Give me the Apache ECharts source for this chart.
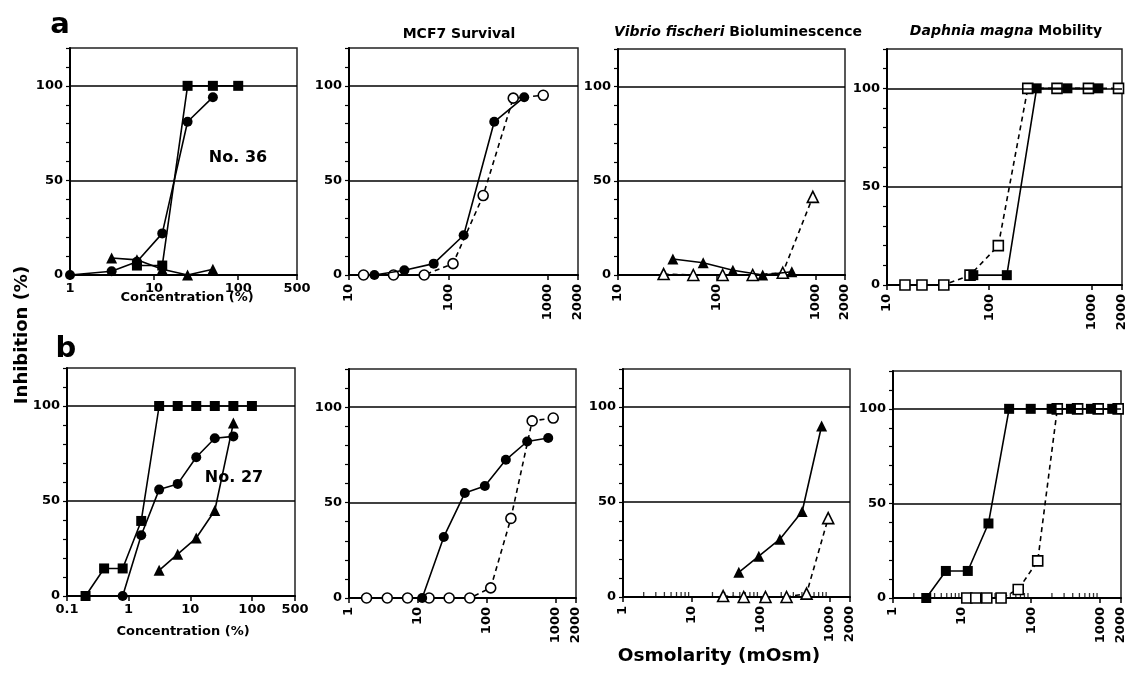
<!DOCTYPE html>
<html>
<head>
<meta charset="utf-8">
<title>Inhibition curves</title>
<script src="https://cdn.jsdelivr.net/npm/echarts@6/dist/echarts.min.js"></script>
<style>
  html, body { margin: 0; padding: 0; background: #fff; }
  #chart { width: 1132px; height: 673px; }
</style>
</head>
<body>
<div id="chart"></div>
<script>
  // ---- values ----
  // row a (No. 36), concentration (%)
  var a1Conc = [1, 3.125, 6.25, 12.5, 25, 50, 100];
  var a1Square = [null, null, 5, 5, 100, 100, 100];
  var a1Circle = [0, 2, 7, 22, 81, 94, null];
  var a1Triangle = [null, 9, 8, 3, 0, 3, null];

  // row a, osmolarity (mOsm)
  var a2FilledX = [18, 36, 71, 142, 288, 576];
  var a2FilledY = [0, 2.5, 6, 21, 81, 94];
  var a2OpenX = [14, 28, 57, 111, 223, 447, 895];
  var a2OpenY = [0, 0, 0, 6, 42, 93.5, 95];

  var a3FilledX = [36, 73, 146, 293, 578];
  var a3FilledY = [8.5, 6.5, 2.5, 0, 1.7];
  var a3OpenX = [29, 58, 115, 232, 468, 944];
  var a3OpenY = [0.5, 0, 0, 0, 1.2, 41.5];

  var a4FilledX = [70, 149, 292, 584, 1175];
  var a4FilledY = [5, 5, 100, 100, 100];
  var a4OpenX = [15, 22, 36, 65, 123, 239, 462, 938, 1849];
  var a4OpenY = [0, 0, 0, 5, 20, 100, 100, 100, 100];

  // row b (No. 27), concentration (%)
  var b1Conc = [0.2, 0.4, 0.8, 1.6, 3.125, 6.25, 12.5, 25, 50, 100];
  var b1Square = [0, 14.5, 14.5, 39.5, 100, 100, 100, 100, 100, 100];
  var b1Circle = [null, null, 0, 32, 56, 59, 73, 83, 84, null];
  var b1Triangle = [null, null, null, null, 13.5, 22, 30.5, 45, 91, null];

  // row b, osmolarity (mOsm)
  var b2FilledX = [11.6, 23.9, 48.3, 94.5, 191, 390, 789];
  var b2FilledY = [0, 32, 55, 58.7, 72.4, 82, 83.8];
  var b2OpenX = [1.8, 3.6, 7.1, 14.6, 28.6, 57, 115, 226, 461, 933];
  var b2OpenY = [0, 0, 0, 0, 0, 0, 5.3, 41.7, 92.8, 94.3];

  var b3FilledX = [48.3, 94.5, 191, 403, 773];
  var b3FilledY = [13, 21.5, 30.4, 45, 90];
  var b3OpenX = [28.6, 57, 118, 239, 467, 964];
  var b3OpenY = [0.5, 0, 0, 0, 1.8, 41.5];

  var b4FilledX = [3.03, 5.83, 12.1, 24.1, 48, 98.7, 198, 377, 734, 1493];
  var b4FilledY = [0, 14.3, 14.3, 39.4, 100, 100, 100, 100, 100, 100];
  var b4OpenX = [11.7, 15.8, 22.8, 36.7, 65, 124.5, 239, 471, 935, 1820];
  var b4OpenY = [0, 0, 0, 0, 4.5, 19.6, 100, 100, 100, 100];

  // axis ranges and ticks
  var xMin = [1, 10, 10, 10, 0.1, 1, 1, 1];
  var xMax = [500, 2000, 2000, 2000, 500, 2000, 2000, 2000];
  var minorSteps = [2, 3, 4, 5, 6, 7, 8, 9];
  var minorDecades = [1, 10, 100];

  var FONT = '"DejaVu Sans", sans-serif';

  var grids = [
    {left: 70, top: 48, width: 227, height: 227},
    {left: 349, top: 48, width: 229, height: 227},
    {left: 618, top: 49, width: 227, height: 226},
    {left: 887, top: 49, width: 235, height: 236},
    {left: 67, top: 368, width: 228, height: 228},
    {left: 349, top: 369, width: 227, height: 229},
    {left: 623, top: 369, width: 227, height: 228},
    {left: 893, top: 371, width: 228, height: 227}
  ];

  function pairs(xs, ys) {
    return xs.map(function (x, i) { return [x, ys[i]]; })
      .filter(function (p) { return p[1] !== null; });
  }

  function curve(idx, data, symbol, filled, dashed) {
    return {
      type: 'line',
      xAxisIndex: idx,
      yAxisIndex: idx,
      data: data,
      symbol: symbol,
      symbolSize: symbol === 'triangle' ? 11 : 10,
      showAllSymbol: true,
      silent: true,
      z: filled ? 4 : 3,
      lineStyle: {color: '#000', width: 1.6, type: dashed ? [5, 4] : 'solid'},
      itemStyle: {color: filled ? '#000' : '#fff', borderColor: '#000', borderWidth: filled ? 0 : 1.6}
    };
  }

  // horizontal rules at 50 and 100
  function rules(idx) {
    return {
      type: 'line', xAxisIndex: idx, yAxisIndex: idx, data: [], silent: true,
      markLine: {
        symbol: 'none', silent: true, animation: false,
        label: {show: false},
        lineStyle: {color: '#000', width: 1.5, type: 'solid'},
        data: [{yAxis: 50}, {yAxis: 100}]
      }
    };
  }

  function minorTicks(idx) {
    var vals = [];
    minorDecades.forEach(function (d) {
      minorSteps.forEach(function (s) { vals.push([s * d, 0]); });
    });
    return {
      type: 'scatter', xAxisIndex: idx, yAxisIndex: idx, data: vals, silent: true,
      symbol: 'rect', symbolSize: [1.3, 5], symbolOffset: [0, -2.5], z: 1,
      itemStyle: {color: '#000'}
    };
  }

  var xAxes = grids.map(function (g, i) {
    return {
      type: 'log', logBase: 10, gridIndex: i, min: xMin[i], max: xMax[i],
      axisLine: {lineStyle: {color: '#000', width: 2}},
      axisTick: {length: 5, lineStyle: {color: '#000', width: 1.5}},
      splitLine: {show: false},
      axisLabel: {
        rotate: (i === 0 || i === 4) ? 0 : 90,
        margin: (i === 0 || i === 4) ? 7 : 9,
        color: '#000', fontWeight: 'bold', fontSize: 13, fontFamily: FONT,
        formatter: function (v) { return v < 1 ? v.toFixed(1) : String(Math.round(v)); }
      }
    };
  });

  var yAxes = grids.map(function (g, i) {
    return {
      type: 'value', gridIndex: i, min: 0, max: 120, interval: 10,
      axisLine: {show: true, lineStyle: {color: '#000', width: 2}},
      axisTick: {length: 4, lineStyle: {color: '#000', width: 1.2}},
      splitLine: {show: false},
      axisLabel: {
        margin: 7, color: '#000', fontWeight: 'bold', fontSize: 13, fontFamily: FONT,
        formatter: function (v) { return v % 50 === 0 ? String(v) : ''; }
      }
    };
  });

  var series = [];
  for (var k = 0; k < 8; k++) series.push(rules(k));
  series.push(minorTicks(6), minorTicks(7));

  series.push(
    curve(0, pairs(a1Conc, a1Triangle), 'triangle', true, false),
    curve(0, pairs(a1Conc, a1Circle), 'circle', true, false),
    curve(0, pairs(a1Conc, a1Square), 'rect', true, false),

    curve(1, pairs(a2OpenX, a2OpenY), 'circle', false, true),
    curve(1, pairs(a2FilledX, a2FilledY), 'circle', true, false),

    curve(2, pairs(a3OpenX, a3OpenY), 'triangle', false, true),
    curve(2, pairs(a3FilledX, a3FilledY), 'triangle', true, false),

    curve(3, pairs(a4FilledX, a4FilledY), 'rect', true, false),
    curve(3, pairs(a4OpenX, a4OpenY), 'rect', false, true),

    curve(4, pairs(b1Conc, b1Triangle), 'triangle', true, false),
    curve(4, pairs(b1Conc, b1Circle), 'circle', true, false),
    curve(4, pairs(b1Conc, b1Square), 'rect', true, false),

    curve(5, pairs(b2OpenX, b2OpenY), 'circle', false, true),
    curve(5, pairs(b2FilledX, b2FilledY), 'circle', true, false),

    curve(6, pairs(b3OpenX, b3OpenY), 'triangle', false, true),
    curve(6, pairs(b3FilledX, b3FilledY), 'triangle', true, false),

    curve(7, pairs(b4FilledX, b4FilledY), 'rect', true, false),
    curve(7, pairs(b4OpenX, b4OpenY), 'rect', false, true)
  );

  function label(x, y, text, size, extra) {
    var o = {
      type: 'text', x: x, y: y, silent: true,
      style: {
        text: text, fill: '#000', fontSize: size, fontWeight: 'bold', fontFamily: FONT,
        align: 'center', verticalAlign: 'middle'
      }
    };
    if (extra) for (var key in extra) o[key] = extra[key];
    return o;
  }

  var italic = {i: {fontStyle: 'italic', fontWeight: 'bold', fontSize: 14, fontFamily: FONT, fill: '#000'}};
  var vibrio = label(738, 32, '{i|Vibrio fischeri} Bioluminescence', 14);
  vibrio.style.rich = italic;
  var daphnia = label(1006, 31, '{i|Daphnia magna} Mobility', 14);
  daphnia.style.rich = italic;

  var graphics = [
    label(60, 25, 'a', 29),
    label(66, 349, 'b', 29),
    label(459, 34, 'MCF7 Survival', 14),
    vibrio,
    daphnia,
    label(238, 158, 'No. 36', 16),
    label(234, 478, 'No. 27', 16),
    label(187, 298, 'Concentration (%)', 13),
    label(183, 632, 'Concentration (%)', 13),
    label(719, 656, 'Osmolarity (mOsm)', 18.5),
    label(22, 335, 'Inhibition (%)', 18, {rotation: Math.PI / 2})
  ];

  var myChart = echarts.init(document.getElementById('chart'));
  myChart.setOption({
    animation: false,
    backgroundColor: '#fff',
    grid: grids.map(function (g) {
      return {left: g.left, top: g.top, width: g.width, height: g.height,
        show: true, borderColor: '#222', borderWidth: 1.5, backgroundColor: 'transparent'};
    }),
    xAxis: xAxes,
    yAxis: yAxes,
    series: series,
    graphic: graphics
  });
</script>
</body>
</html>
